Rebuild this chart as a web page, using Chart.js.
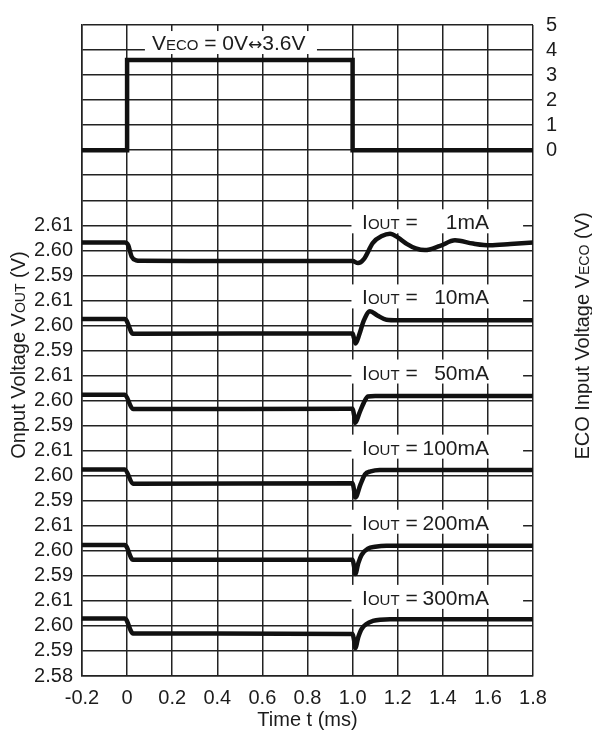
<!DOCTYPE html>
<html>
<head>
<meta charset="utf-8">
<script src="https://cdn.jsdelivr.net/npm/chart.js@4.4.1/dist/chart.umd.min.js"></script>
<style>
  html, body { margin: 0; padding: 0; background: #fff; }
  canvas { display: block; }
</style>
</head>
<body>
<canvas id="c" width="592" height="736"></canvas>
<script>
// ---------- data ----------
const xTickValues = [-0.2, 0, 0.2, 0.4, 0.6, 0.8, 1.0, 1.2, 1.4, 1.6, 1.8];
const xTickLabels = ['-0.2', '0', '0.2', '0.4', '0.6', '0.8', '1.0', '1.2', '1.4', '1.6', '1.8'];
const voutPanelTickLabels = ['2.59', '2.60', '2.61'];
const voutBottomTickLabel = '2.58';
const vecoTickValues = [0, 1, 2, 3, 4, 5];

const loadLabels = ['300mA', '200mA', '100mA', '50mA', '10mA', '1mA']; // bottom to top

const vecoT = [-0.2, 0, 0, 1.0, 1.0, 1.8];
const vecoV = [0, 0, 3.6, 3.6, 0, 0];

const t1mA = [-0.2, -0.01, 0.005, 0.02, 0.04, 0.06, 1.0, 1.024, 1.05, 1.09, 1.13, 1.166, 1.20, 1.24, 1.28, 1.321, 1.388, 1.454, 1.534, 1.609, 1.7, 1.8];
const v1mA = [2.6031, 2.6031, 2.6020, 2.5975, 2.5960, 2.5958, 2.5957, 2.5949, 2.5965, 2.6030, 2.6057, 2.6066, 2.6052, 2.6026, 2.6008, 2.6001, 2.6018, 2.6040, 2.6027, 2.6020, 2.6025, 2.6031];

const t10mA = [-0.2, -0.01, 0.026, 1.0, 1.006, 1.013, 1.03, 1.05, 1.077, 1.11, 1.15, 1.2, 1.8];
const v10mA = [2.6026, 2.6026, 2.5967, 2.5968, 2.5950, 2.5928, 2.5965, 2.6020, 2.6057, 2.6040, 2.6023, 2.6021, 2.6021];

const t50mA = [-0.2, -0.01, 0.026, 1.0, 1.006, 1.012, 1.03, 1.05, 1.068, 1.1, 1.8];
const v50mA = [2.6023, 2.6023, 2.5966, 2.5967, 2.5945, 2.5911, 2.5950, 2.5992, 2.6016, 2.6018, 2.6018];

const t100mA = [-0.2, -0.01, 0.026, 1.0, 1.006, 1.012, 1.035, 1.055, 1.08, 1.12, 1.8];
const v100mA = [2.6025, 2.6025, 2.5968, 2.5970, 2.5945, 2.5913, 2.5965, 2.6005, 2.6017, 2.6023, 2.6023];

const t200mA = [-0.2, -0.01, 0.026, 1.0, 1.006, 1.012, 1.025, 1.04, 1.068, 1.1, 1.15, 1.8];
const v200mA = [2.6023, 2.6023, 2.5964, 2.5964, 2.5940, 2.5907, 2.5950, 2.5984, 2.6009, 2.6016, 2.6020, 2.6020];

const t300mA = [-0.2, -0.01, 0.026, 1.0, 1.006, 1.012, 1.025, 1.04, 1.09, 1.166, 1.8];
const v300mA = [2.6030, 2.6030, 2.5970, 2.5968, 2.5945, 2.5912, 2.5955, 2.5988, 2.6020, 2.6027, 2.6027];

// ---------- build ----------
const FONT = '"Liberation Sans", Arial, Helvetica, sans-serif';
const INK = '#1c1c1c';
const GRID = '#222';
const toPts = (t, v) => t.map((x, i) => ({ x: x, y: v[i] }));

const panels = [
  [t300mA, v300mA], [t200mA, v200mA], [t100mA, v100mA],
  [t50mA, v50mA], [t10mA, v10mA], [t1mA, v1mA]
];

const UNITS = 26;           // grid rows
const VOLT_PER_UNIT = 0.01; // each row of a VOUT panel
const VECO_ZERO_ROW = 21;   // row where VECO = 0

// left-axis labels per row
const leftLabels = [];
for (let u = 0; u <= UNITS; u++) leftLabels.push('');
leftLabels[0] = voutBottomTickLabel;
for (let k = 0; k < panels.length; k++) {
  for (let j = 0; j < 3; j++) leftLabels[1 + 3 * k + j] = voutPanelTickLabels[j];
}

const scales = {
  x: {
    type: 'linear', min: -0.2, max: 1.8,
    afterBuildTicks: s => { s.ticks = xTickValues.map(v => ({ value: v })); },
    afterFit: s => { s.height = 60; },
    ticks: { callback: (v, i) => xTickLabels[i], color: INK, font: { family: FONT, size: 20 }, padding: 10, maxRotation: 0, autoSkip: false },
    grid: { color: GRID, lineWidth: 1.5, drawTicks: false },
    border: { color: GRID, width: 1.5 }
  },
  y: {
    type: 'linear', position: 'left', min: 0, max: UNITS,
    afterBuildTicks: s => { s.ticks = leftLabels.map((l, u) => ({ value: u })); },
    afterFit: s => { s.width = 82; },
    ticks: { callback: (v) => leftLabels[Math.round(v)], color: INK, font: { family: FONT, size: 20 }, padding: 9, autoSkip: false },
    grid: { color: GRID, lineWidth: 1.5, drawTicks: false },
    border: { color: GRID, width: 1.5 }
  },
  yR: {
    type: 'linear', position: 'right', min: -VECO_ZERO_ROW, max: UNITS - VECO_ZERO_ROW,
    afterBuildTicks: s => { s.ticks = vecoTickValues.map(v => ({ value: v })); },
    afterFit: s => { s.width = 59; },
    ticks: { callback: v => String(v), color: INK, font: { family: FONT, size: 20 }, padding: 13, autoSkip: false },
    grid: { display: false, drawTicks: false },
    border: { display: false }
  }
};

const datasets = [{
  label: 'VECO', data: toPts(vecoT, vecoV), yAxisID: 'yR',
  borderColor: '#111', borderWidth: 4.5, pointRadius: 0, tension: 0, fill: false,
  borderJoinStyle: 'miter'
}];

panels.forEach((p, k) => {
  const id = 'yP' + k;
  const zeroRow = 2 + 3 * k; // row where 2.60 V sits
  const mn = 2.60 - zeroRow * VOLT_PER_UNIT;
  scales[id] = { type: 'linear', display: false, min: mn, max: mn + UNITS * VOLT_PER_UNIT };
  datasets.push({
    label: 'IOUT = ' + loadLabels[k], data: toPts(p[0], p[1]), yAxisID: id,
    borderColor: '#111', borderWidth: 4.5, pointRadius: 0,
    cubicInterpolationMode: 'monotone', fill: false,
    borderJoinStyle: 'round', borderCapStyle: 'butt'
  });
});

function drawRich(ctx, segs, x, y, align) {
  let w = 0;
  segs.forEach(s => { ctx.font = s.size + 'px ' + (s.family || FONT); s.w = ctx.measureText(s.text).width; w += s.w; });
  let cx = align === 'center' ? x - w / 2 : (align === 'right' ? x - w : x);
  ctx.textAlign = 'left';
  ctx.textBaseline = 'alphabetic';
  segs.forEach(s => { ctx.font = s.size + 'px ' + (s.family || FONT); ctx.fillText(s.text, cx, y); cx += s.w; });
}

const annot = {
  id: 'annot',
  beforeDatasetsDraw(chart) {
    const ctx = chart.ctx;
    const xs = chart.scales.x, ys = chart.scales.y;
    ctx.save();
    ctx.fillStyle = INK;
    // VECO title box
    {
      const gy = ys.getPixelForValue(25);
      const x0 = xs.getPixelForValue(0.079), x1 = xs.getPixelForValue(0.842);
      ctx.fillStyle = '#fff';
      ctx.fillRect(x0, gy - 19, x1 - x0, 23);
      ctx.fillStyle = INK;
      drawRich(ctx, [
        { text: 'V', size: 21 }, { text: 'ECO', size: 15 }, { text: ' = 0V', size: 21 },
        { text: '\u2194', size: 17, family: '"DejaVu Sans", sans-serif' },
        { text: '3.6V', size: 21 }
      ], xs.getPixelForValue(0.11), gy, 'left');
    }
    // IOUT labels
    loadLabels.forEach((lab, k) => {
      const gy = ys.getPixelForValue(3 + 3 * k);
      const x0 = xs.getPixelForValue(0.995), x1 = xs.getPixelForValue(1.756);
      ctx.fillStyle = '#fff';
      ctx.fillRect(x0, gy - 16, x1 - x0, 24);
      ctx.fillStyle = INK;
      drawRich(ctx, [{ text: 'I', size: 21 }, { text: 'OUT', size: 15 }, { text: ' =', size: 21 }], xs.getPixelForValue(1.042), gy + 4, 'left');
      drawRich(ctx, [{ text: lab, size: 21 }], xs.getPixelForValue(1.605), gy + 4, 'right');
    });
    ctx.restore();
  },
  afterDraw(chart) {
    const ctx = chart.ctx;
    const a = chart.chartArea;
    ctx.save();
    ctx.fillStyle = INK;
    // x title
    drawRich(ctx, [{ text: 'Time t (ms)', size: 20 }], (a.left + a.right) / 2, 726, 'center');
    // left title
    ctx.save();
    ctx.translate(25, 355);
    ctx.rotate(-Math.PI / 2);
    drawRich(ctx, [{ text: 'Onput Voltage V', size: 20 }, { text: 'OUT', size: 14 }, { text: ' (V)', size: 20 }], 0, 0, 'center');
    ctx.restore();
    // right title
    ctx.save();
    ctx.translate(589, 336);
    ctx.rotate(-Math.PI / 2);
    drawRich(ctx, [{ text: 'ECO Input Voltage V', size: 20 }, { text: 'ECO', size: 14 }, { text: ' (V)', size: 20 }], 0, 0, 'center');
    ctx.restore();
    ctx.restore();
  }
};

new Chart(document.getElementById('c'), {
  type: 'line',
  data: { datasets },
  options: {
    responsive: false,
    animation: false,
    devicePixelRatio: 1,
    layout: { padding: { top: 16, left: 0, right: 0, bottom: 0 } },
    plugins: { legend: { display: false }, tooltip: { enabled: false }, title: { display: false } },
    scales
  },
  plugins: [annot]
});
</script>
</body>
</html>
